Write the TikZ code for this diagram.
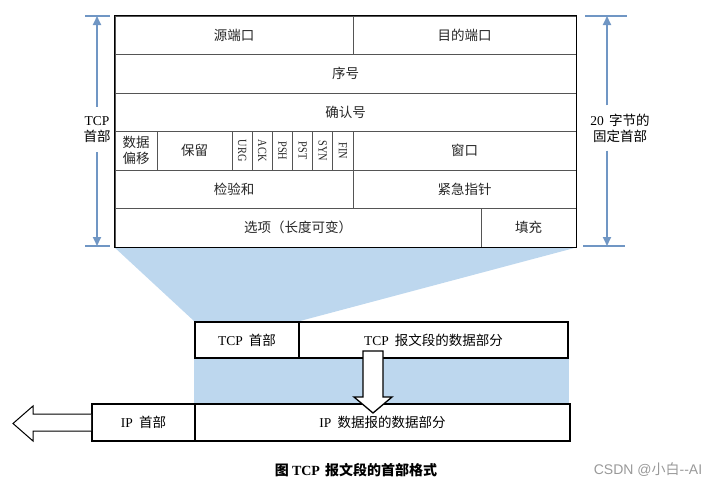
\documentclass[tikz,border=0pt]{standalone}
\usepackage{fontspec}
\setmainfont{Noto Sans CJK SC}
\newfontfamily\tnr{Liberation Serif}
\newfontfamily\arialf{Liberation Sans}
\usepackage{xcolor}
\definecolor{tcpblue}{RGB}{189, 215, 238}
\definecolor{dimblue}{RGB}{112, 150, 196}
\definecolor{gridgray}{RGB}{85, 85, 85}
\usepackage{tikz}
\usetikzlibrary{arrows.meta, backgrounds}

\begin{document}
\begin{tikzpicture}[x=1pt, y=-1pt,
  cell/.style={rectangle, draw=gridgray, line width=0.9pt, minimum height=38.5pt, inner sep=0pt, font=\fontsize{13.5}{16}\selectfont, text=black!85, align=center},
  flag/.style={cell, minimum width=20.17pt},
  seg/.style={rectangle, draw=black, line width=2pt, fill=white, inner sep=0pt, font=\fontsize{13.5}{16}\selectfont},
  dimlbl/.style={inner sep=0pt, minimum height=45pt, align=center, font=\fontsize{13.5}{16}\selectfont},
  dimarr/.style={draw=dimblue, line width=1.8pt, -{Triangle[width=8pt,length=9pt]}},
  dimtick/.style={draw=dimblue, line width=2pt},
  hollow/.style={draw=black, line width=1.3pt, fill=white, line join=miter}
]
  \useasboundingbox (0,0) rectangle (721,490);

  \node[cell, minimum width=238pt] (src) at (234,35.25) {源端口};
  \node[cell, minimum width=223pt] (dst) at (464.5,35.25) {目的端口};
  \node[cell, minimum width=461pt] (seq) at (345.5,73.75) {序号};
  \node[cell, minimum width=461pt] (ack) at (345.5,112.25) {确认号};
  \node[cell, minimum width=42pt] (off) at (136,150.75) {数据\\偏移};
  \node[cell, minimum width=75pt] (res) at (194.5,150.75) {保留};
  \foreach \f [count=\i] in {URG,ACK,PSH,PST,SYN,FIN}
    \node[flag] (flag\i) at ({232+(\i-0.5)*20.17},150.75) {\rotatebox{-90}{\scalebox{0.82}[1]{\fontsize{12.5}{12.5}\selectfont\tnr \f}}};
  \node[cell, minimum width=223pt] (win) at (464.5,150.75) {窗口};
  \node[cell, minimum width=238pt] (chk) at (234,189.25) {检验和};
  \node[cell, minimum width=223pt] (urg) at (464.5,189.25) {紧急指针};
  \node[cell, minimum width=366pt] (opt) at (298,227.75) {选项（长度可变）};
  \node[cell, minimum width=95pt] (pad) at (528.5,227.75) {填充};
  \draw[black, line width=1.5pt] (src.north west) rectangle (pad.south east);

  \coordinate (ltop) at (97,16);
  \coordinate (lbot) at (97,246);
  \draw[dimtick] (85,16) -- (110,16);
  \draw[dimtick] (85,246) -- (110,246);
  \node[dimlbl] (tcphd) at (97,129.5) {{\tnr TCP}\\首部};
  \draw[dimarr] (tcphd) -- (ltop);
  \draw[dimarr] (tcphd) -- (lbot);

  \coordinate (rtop) at (607,16);
  \coordinate (rbot) at (607,246);
  \draw[dimtick] (585,16) -- (627,16);
  \draw[dimtick] (583,246) -- (625,246);
  \node[dimlbl] (fixhd) at (620,128) {{\tnr 20}\hspace{2pt} 字节的\\固定首部};
  \draw[dimarr] (fixhd.north -| rtop) -- (rtop);
  \draw[dimarr] (fixhd.south -| rbot) -- (rbot);

  \node[seg, minimum width=104pt, minimum height=36pt] (tcph) at (247,340) {{\tnr TCP}\hspace{3pt} 首部};
  \node[seg, minimum width=269pt, minimum height=36pt] (tcpdata) at (433.5,340) {{\tnr TCP}\hspace{3pt} 报文段的数据部分};
  \node[seg, minimum width=103pt, minimum height=37pt] (iph) at (143.5,422.5) {{\tnr IP}\hspace{3pt} 首部};
  \node[seg, minimum width=375pt, minimum height=37pt] (ipdata) at (382.5,422.5) {{\tnr IP}\hspace{3pt} 数据报的数据部分};

  \begin{scope}[on background layer]
    \fill[tcpblue] (opt.south west) -- (pad.south east) -- (tcph.north east) -- (tcph.north west) -- cycle;
    \fill[tcpblue] (tcph.south west) rectangle (tcpdata.south east |- ipdata.north);
  \end{scope}

  \draw[hollow] (363,351) -- (383,351) -- (383,397) -- (392,397) -- (373,413) -- (354,397) -- (363,397) -- cycle;
  \draw[hollow, line width=1pt] (iph.west |- 0,414) -- (33,414) -- (33,406) -- (13,423.5) -- (33,441) -- (33,431) -- (iph.west |- 0,431);

  \node[font=\fontsize{14}{14}\selectfont\bfseries] (caption) at (356,470) {图 {\tnr TCP}\hspace{2pt} 报文段的首部格式};
  \node[font=\fontsize{14}{14}\selectfont, text=black!40] (mark) at (648,470) {{\arialf CSDN @}小白{\arialf --AI}};
\end{tikzpicture}
\end{document}
